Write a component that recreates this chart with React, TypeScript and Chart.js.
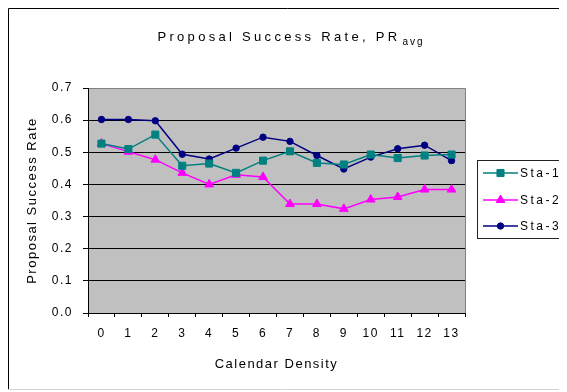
import React, { useEffect, useRef } from 'react';
import { Chart, registerables } from 'chart.js';

Chart.register(...registerables);

const categories = ['0', '1', '2', '3', '4', '5', '6', '7', '8', '9', '10', '11', '12', '13'];
const seriesNames = ['Sta-1', 'Sta-2', 'Sta-3'];
const sta1 = [0.527, 0.51, 0.555, 0.458, 0.465, 0.436, 0.474, 0.503, 0.467, 0.462, 0.493, 0.482, 0.49, 0.493];
const sta2 = [0.527, 0.502, 0.477, 0.436, 0.4, 0.43, 0.423, 0.339, 0.339, 0.324, 0.353, 0.361, 0.384, 0.384];
const sta3 = [0.602, 0.602, 0.598, 0.494, 0.479, 0.513, 0.547, 0.534, 0.49, 0.448, 0.485, 0.511, 0.522, 0.474];
const titleMain = 'Proposal Success Rate, PR';
const titleSub = 'avg';
const xTitle = 'Calendar Density';
const yTitle = 'Proposal Success Rate';

const colors = ['#008080', '#ff00ff', '#000080'];
const styles = ['rect', 'triangle', 'circle'];
const radii = [5, 5, 3.2];
const FONT = '"Liberation Sans", Arial, sans-serif';

function drawMarker(ctx: CanvasRenderingContext2D, style: string, x: number, y: number, r: number, color: string) {
  ctx.save();
  ctx.fillStyle = color;
  ctx.strokeStyle = color;
  ctx.lineWidth = 1;
  ctx.beginPath();
  if (style === 'rect') {
    const s = r * Math.SQRT1_2;
    ctx.rect(x - s, y - s, 2 * s, 2 * s);
  } else if (style === 'triangle') {
    ctx.moveTo(x, y - r);
    ctx.lineTo(x + r * 0.866, y + r * 0.5);
    ctx.lineTo(x - r * 0.866, y + r * 0.5);
    ctx.closePath();
  } else {
    ctx.arc(x, y, r, 0, Math.PI * 2);
  }
  ctx.fill();
  ctx.stroke();
  ctx.restore();
}

const decorPlugin = {
  id: 'decor',
  beforeDraw(chart: any) {
    const { ctx, chartArea: a, width } = chart;
    ctx.save();
    ctx.lineWidth = 1;
    ctx.strokeStyle = '#000';
    ctx.beginPath();
    ctx.moveTo(0.5, 381);
    ctx.lineTo(0.5, 0.5);
    ctx.lineTo(width, 0.5);
    ctx.stroke();
    ctx.strokeStyle = '#d4d4d4';
    ctx.beginPath();
    ctx.moveTo(0, 381.5);
    ctx.lineTo(width, 381.5);
    ctx.stroke();
    ctx.fillStyle = '#c0c0c0';
    ctx.fillRect(a.left, a.top, a.right - a.left, a.bottom - a.top);
    ctx.strokeStyle = '#808080';
    ctx.beginPath();
    ctx.moveTo(a.left, a.top + 0.5);
    ctx.lineTo(a.right + 0.5, a.top + 0.5);
    ctx.lineTo(a.right + 0.5, a.bottom);
    ctx.stroke();
    ctx.restore();
    (ctx as any).letterSpacing = '1.5px';
  },
  afterDraw(chart: any) {
    const { ctx } = chart;
    (ctx as any).letterSpacing = '0px';
    ctx.save();
    // title
    ctx.fillStyle = '#000';
    ctx.textBaseline = 'alphabetic';
    ctx.textAlign = 'left';
    ctx.font = `13px ${FONT}`;
    (ctx as any).letterSpacing = '3.3px';
    const w1 = ctx.measureText(titleMain).width;
    ctx.font = `10px ${FONT}`;
    (ctx as any).letterSpacing = '2px';
    const w2 = ctx.measureText(titleSub).width;
    const start = 283 - (w1 + 2 + w2) / 2;
    ctx.font = `13px ${FONT}`;
    (ctx as any).letterSpacing = '3.3px';
    ctx.fillText(titleMain, start, 33);
    ctx.font = `10px ${FONT}`;
    (ctx as any).letterSpacing = '2px';
    ctx.fillText(titleSub, start + w1 + 2, 36.5);

    // legend
    (ctx as any).letterSpacing = '0px';
    ctx.fillStyle = '#fff';
    ctx.fillRect(469.5, 152.5, 89, 78);
    ctx.strokeStyle = '#222';
    ctx.lineWidth = 1;
    ctx.strokeRect(469.5, 152.5, 89, 78);
    const rows = [165, 192, 218];
    for (let i = 0; i < seriesNames.length; i++) {
      const y = rows[i];
      ctx.strokeStyle = colors[i];
      ctx.lineWidth = 1.5;
      ctx.beginPath();
      ctx.moveTo(475, y);
      ctx.lineTo(510, y);
      ctx.stroke();
      drawMarker(ctx, styles[i], 492.5, y, radii[i], colors[i]);
      ctx.fillStyle = '#000';
      ctx.font = `12px ${FONT}`;
      (ctx as any).letterSpacing = '2.5px';
      ctx.textBaseline = 'middle';
      ctx.fillText(seriesNames[i], 512, y + 1);
      (ctx as any).letterSpacing = '0px';
    }
    ctx.restore();
  },
};

export default function App() {
  const ref = useRef<HTMLCanvasElement>(null);
  useEffect(() => {
    if (!ref.current) return;
    const values = [sta1, sta2, sta3];
    const chart = new Chart(ref.current, {
      type: 'line',
      data: {
        labels: categories,
        datasets: seriesNames.map((name, i) => ({
          label: name,
          data: values[i],
          borderColor: colors[i],
          backgroundColor: colors[i],
          pointBackgroundColor: colors[i],
          pointBorderColor: colors[i],
          pointStyle: styles[i] as any,
          pointRadius: radii[i],
          pointBorderWidth: 1,
          borderWidth: 1.5,
          tension: 0,
        })),
      },
      options: {
        animation: false,
        responsive: false,
        maintainAspectRatio: false,
        layout: { padding: { left: 0, top: 80, right: 102, bottom: 0 } },
        plugins: {
          legend: { display: false },
          title: { display: false },
          tooltip: { enabled: false },
        },
        scales: {
          x: {
            offset: true,
            afterFit: (s: any) => { s.height = 79; },
            grid: {
              offset: true,
              drawOnChartArea: false,
              drawTicks: true,
              tickLength: 4,
              color: '#000',
              tickColor: '#000',
            },
            border: { color: '#000', width: 1 },
            ticks: {
              color: '#000',
              font: { family: FONT, size: 12 },
              padding: 9,
              maxRotation: 0,
              autoSkip: false,
            },
            title: {
              display: true,
              text: xTitle,
              color: '#000',
              font: { family: FONT, size: 13 },
              padding: { top: 0, bottom: 20 },
            },
          },
          y: {
            min: 0,
            max: 0.7,
            afterFit: (s: any) => { s.width = 80; },
            ticks: {
              stepSize: 0.1,
              color: '#000',
              font: { family: FONT, size: 12 },
              padding: 10,
              callback: (v: any) => Number(v).toFixed(1),
            },
            grid: {
              color: (c: any) => (c.tick && Math.abs(c.tick.value - 0.7) < 1e-6 ? '#808080' : '#000'),
              tickColor: '#000',
              tickLength: 5,
              lineWidth: 1,
            },
            border: { color: '#000', width: 1 },
            title: {
              display: true,
              text: yTitle,
              color: '#000',
              font: { family: FONT, size: 13 },
              padding: { top: 17, bottom: 0 },
            },
          },
        },
      },
      plugins: [decorPlugin],
    });
    return () => chart.destroy();
  }, []);
  return (
    <div style={{ width: 559, height: 384 }}>
      <canvas ref={ref} width={559} height={384} style={{ display: 'block' }} />
    </div>
  );
}
